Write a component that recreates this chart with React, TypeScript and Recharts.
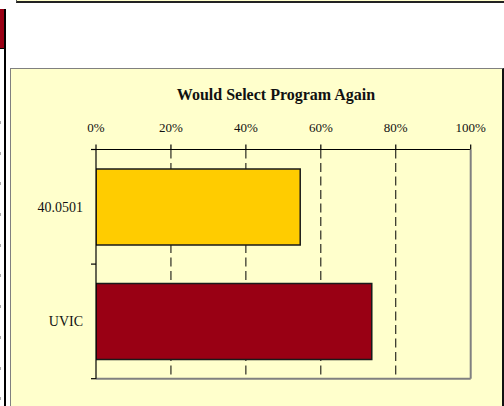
import React from 'react';
import { BarChart, Bar, XAxis, YAxis, CartesianGrid, Cell } from 'recharts';

const categories = ['40.0501', 'UVIC'];
const values = [0.545, 0.736];
const barColors = ['#FFCC00', '#990014'];
const xTicks = [0, 0.2, 0.4, 0.6, 0.8, 1];
const gridValues = [0.2, 0.4, 0.6, 0.8];
const chartTitle = 'Would Select Program Again';

const data = categories.map((name, i) => ({ name, value: values[i] }));
const FONT = '"Liberation Serif", "Times New Roman", serif';
const BG = '#FFFFCC';
const Y_TICK_SIZE = 5;
const Y_TICK_MARGIN = 8;

function CategoryTick(props: any) {
  const { x, y, payload, height, visibleTicksCount, index } = props;
  const axisX = x + Y_TICK_MARGIN + Y_TICK_SIZE;
  const half = height / (visibleTicksCount || categories.length) / 2;
  return (
    <g>
      {index === 0 && (
        <line x1={axisX - Y_TICK_SIZE} x2={axisX} y1={y - half} y2={y - half} stroke="#000" strokeWidth={1.2} />
      )}
      <line x1={axisX - Y_TICK_SIZE} x2={axisX} y1={y + half} y2={y + half} stroke="#000" strokeWidth={1.2} />
      <text x={x} y={y} dy="0.355em" textAnchor="end" fill="#111" fontSize={14} fontFamily={FONT}>
        {payload.value}
      </text>
    </g>
  );
}

export default function App() {
  return (
    <div style={{ position: 'absolute', left: 0, top: 0, width: 504, height: 406, overflow: 'hidden', background: '#fff' }}>
      {/* fragment of the box above */}
      <div style={{ position: 'absolute', left: 16, top: -20, width: 500, height: 21, background: BG, borderLeft: '1px solid #555', borderBottom: '2px solid #222' }} />
      {/* left page elements */}
      <div style={{ position: 'absolute', left: 0, top: 9, width: 4, height: 39, background: '#990014', borderBottom: '1px solid #000' }} />
      <div style={{ position: 'absolute', left: 4, top: 9, width: 2, height: 400, background: '#000' }} />
      <div style={{ position: 'absolute', left: 0, top: 121, width: 1, height: 290, background: 'repeating-linear-gradient(to bottom, #aaa 0px, #aaa 3px, transparent 3px, transparent 30.7px)' }} />
      {/* chart area */}
      <div style={{ position: 'absolute', left: 10, top: 68, width: 491, height: 360, background: BG, borderLeft: '1px solid #808080', borderTop: '1px solid #808080', borderRight: '2px solid #111' }} />
      <div style={{ position: 'absolute', left: 0, top: 87, width: 552, textAlign: 'center', fontFamily: FONT, fontSize: 16, lineHeight: '16px', fontWeight: 'bold', color: '#111' }}>
        {chartTitle}
      </div>
      <div style={{ position: 'absolute', left: 0, top: 0 }}>
        <BarChart
          width={504}
          height={406}
          data={data}
          layout="vertical"
          margin={{ top: 119.5, right: 32.3, bottom: 26.3, left: 0 }}
          barCategoryGap="17%"
        >
          <CartesianGrid horizontal={false} verticalValues={gridValues} stroke="#000" strokeDasharray="9 4.5" />
          <XAxis
            type="number"
            orientation="top"
            domain={[0, 1]}
            allowDataOverflow
            ticks={xTicks}
            interval={0}
            tickFormatter={(v: number) => `${Math.round(v * 100)}%`}
            height={30}
            tickSize={5}
            tickMargin={13}
            axisLine={{ stroke: '#000', strokeWidth: 1.2 }}
            tickLine={{ stroke: '#000', strokeWidth: 1.2 }}
            tick={{ fill: '#111', fontSize: 13, fontFamily: FONT }}
          />
          <XAxis
            xAxisId="bottom"
            type="number"
            orientation="bottom"
            domain={[0, 1]}
            allowDataOverflow
            ticks={xTicks}
            height={1}
            tickLine={false}
            tick={false}
            axisLine={{ stroke: '#808080', strokeWidth: 2 }}
          />
          <YAxis
            type="category"
            dataKey="name"
            width={96}
            interval={0}
            tickLine={false}
            axisLine={{ stroke: '#000', strokeWidth: 1.2 }}
            tickSize={Y_TICK_SIZE}
            tickMargin={Y_TICK_MARGIN}
            tick={<CategoryTick />}
          />
          <YAxis
            yAxisId="right"
            orientation="right"
            type="number"
            domain={[0, 1]}
            allowDataOverflow
            width={1}
            tickLine={false}
            tick={false}
            axisLine={{ stroke: '#808080', strokeWidth: 2 }}
          />
          <Bar dataKey="value" isAnimationActive={false} stroke="#1a1a1a" strokeWidth={1.5}>
            {data.map((d, i) => (
              <Cell key={d.name} fill={barColors[i]} />
            ))}
          </Bar>
        </BarChart>
      </div>
    </div>
  );
}
